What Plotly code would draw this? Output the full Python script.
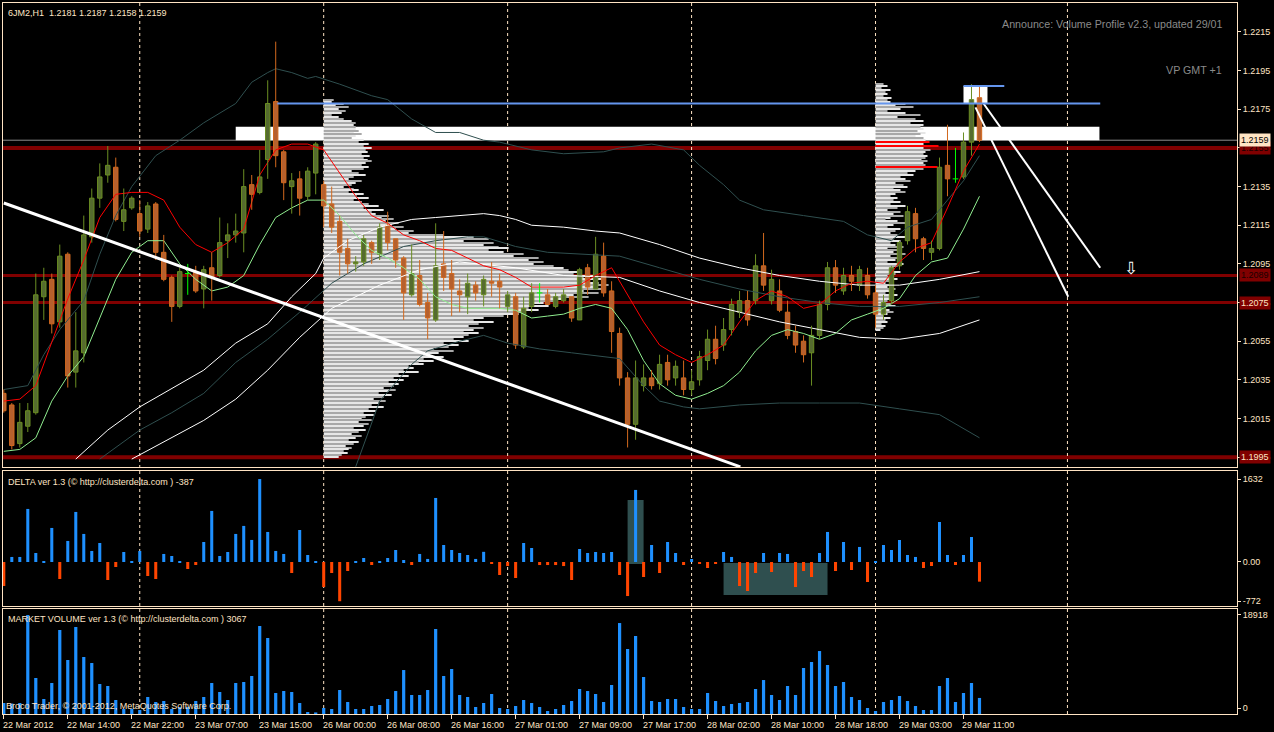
import plotly.graph_objects as go

# ---------------- DATA ----------------
open_ = [1.2028,1.2022,1.2002,1.2011,1.2018,1.2078,1.2087,1.2065,1.2100,1.2039,
         1.2049,1.2109,1.2129,1.2141,1.2145,1.2117,1.2124,1.2121,1.2113,1.2126,
         1.2101,1.2088,1.2073,1.2090,1.2091,1.2082,1.2093,1.2089,1.2107,1.2110,
         1.2111,1.2136,1.2132,1.2149,1.2179,1.2153,1.2135,1.2139,1.2130,1.2142,
         1.2136,1.2126,1.2117,1.2103,1.2095,1.2096,1.2106,1.2100,1.2115,1.2108,
         1.2098,1.2079,1.2089,1.2075,1.2066,1.2095,1.2090,1.2081,1.2078,1.2084,
         1.2079,1.2086,1.2086,1.2073,1.2078,1.2052,1.2073,1.2080,1.2079,1.2073,
         1.2076,1.2078,1.2066,1.2093,1.2082,1.2099,1.2081,1.2059,1.2036,1.2012,
         1.2032,1.2036,1.2033,1.2044,1.2036,1.2036,1.2030,1.2035,1.2045,1.2056,
         1.2053,1.2061,1.2070,1.2076,1.2076,1.2094,1.2076,1.2081,1.2070,1.2060,
         1.2055,1.2049,1.2058,1.2074,1.2093,1.2081,1.2089,1.2084,1.2089,1.2080,
         1.2069,1.2076,1.2094,1.2107,1.2121,1.2108,1.2101,1.2103,1.2146,1.2139,
         1.2140,1.2158,1.2181]
high_ = [1.2030,1.2023,1.2023,1.2023,1.2090,1.2093,1.2090,1.2105,1.2101,1.2070,
         1.2120,1.2134,1.2147,1.2156,1.2150,1.2134,1.2130,1.2128,1.2127,1.2127,
         1.2110,1.2089,1.2093,1.2095,1.2094,1.2094,1.2101,1.2119,1.2116,1.2121,
         1.2144,1.2141,1.2154,1.2190,1.2210,1.2154,1.2142,1.2143,1.2145,1.2158,
         1.2138,1.2135,1.2120,1.2108,1.2099,1.2110,1.2107,1.2116,1.2122,1.2108,
         1.2099,1.2105,1.2097,1.2080,1.2116,1.2112,1.2097,1.2087,1.2090,1.2086,
         1.2089,1.2096,1.2090,1.2081,1.2080,1.2078,1.2085,1.2085,1.2082,1.2080,
         1.2082,1.2078,1.2093,1.2095,1.2109,1.2106,1.2086,1.2062,1.2039,1.2045,
         1.2043,1.2040,1.2048,1.2048,1.2045,1.2045,1.2040,1.2050,1.2061,1.2063,
         1.2067,1.2077,1.2081,1.2081,1.2100,1.2111,1.2092,1.2087,1.2076,1.2063,
         1.2058,1.2063,1.2076,1.2096,1.2097,1.2093,1.2094,1.2094,1.2093,1.2084,
         1.2079,1.2094,1.2107,1.2125,1.2124,1.2109,1.2107,1.2150,1.2167,1.2155,
         1.2163,1.2188,1.2187]
low_ = [1.2018,1.1999,1.2000,1.2008,1.2017,1.2066,1.2059,1.2062,1.2031,1.2031,
        1.2044,1.2106,1.2124,1.2137,1.2117,1.2112,1.2123,1.2109,1.2111,1.2097,
        1.2086,1.2065,1.2072,1.2079,1.2080,1.2072,1.2076,1.2088,1.2098,1.2106,
        1.2101,1.2123,1.2131,1.2139,1.2145,1.2128,1.2121,1.2120,1.2128,1.2131,
        1.2114,1.2111,1.2089,1.2090,1.2091,1.2094,1.2095,1.2097,1.2102,1.2093,
        1.2066,1.2078,1.2073,1.2056,1.2065,1.2081,1.2068,1.2070,1.2069,1.2076,
        1.2073,1.2078,1.2072,1.2070,1.2051,1.2051,1.2070,1.2075,1.2074,1.2072,
        1.2075,1.2065,1.2066,1.2079,1.2082,1.2078,1.2049,1.2032,1.2000,1.2004,
        1.2029,1.2030,1.2030,1.2032,1.2032,1.2027,1.2027,1.2032,1.2040,1.2043,
        1.2050,1.2058,1.2067,1.2063,1.2074,1.2081,1.2074,1.2070,1.2056,1.2049,
        1.2044,1.2032,1.2056,1.2071,1.2080,1.2079,1.2081,1.2081,1.2077,1.2062,
        1.2066,1.2074,1.2092,1.2105,1.2101,1.2097,1.2097,1.2102,1.2130,1.2137,
        1.2139,1.2151,1.2158]
close_ = [1.2019,1.2001,1.2013,1.2019,1.2079,1.2086,1.2064,1.2099,1.2037,1.2050,
          1.2110,1.2129,1.2140,1.2146,1.2118,1.2123,1.2129,1.2112,1.2125,1.2101,
          1.2087,1.2073,1.2091,1.2090,1.2081,1.2092,1.2088,1.2106,1.2110,1.2112,
          1.2135,1.2131,1.2140,1.2178,1.2151,1.2137,1.2138,1.2129,1.2143,1.2157,
          1.2125,1.2114,1.2101,1.2095,1.2096,1.2108,1.2101,1.2114,1.2106,1.2097,
          1.2080,1.2090,1.2074,1.2067,1.2094,1.2088,1.2082,1.2079,1.2085,1.2080,
          1.2087,1.2085,1.2083,1.2079,1.2053,1.2072,1.2080,1.2080,1.2074,1.2078,
          1.2079,1.2067,1.2092,1.2083,1.2100,1.2080,1.2060,1.2036,1.2012,1.2036,
          1.2036,1.2032,1.2043,1.2035,1.2042,1.2030,1.2034,1.2047,1.2056,1.2046,
          1.2061,1.2074,1.2076,1.2066,1.2094,1.2084,1.2087,1.2071,1.2058,1.2053,
          1.2048,1.2058,1.2074,1.2093,1.2084,1.2089,1.2086,1.2092,1.2079,1.2069,
          1.2075,1.2093,1.2106,1.2122,1.2108,1.2103,1.2103,1.2145,1.2139,1.2139,
          1.2158,1.2180,1.2159]

delta = [-473,99,99,1044,177,20,670,-335,414,985,
         552,217,374,-355,-99,197,15,217,-276,-335,
         158,118,20,-138,-59,394,1005,118,197,552,
         710,434,1632,591,217,158,-217,630,138,10,
         -493,-217,-772,-177,20,79,-59,20,79,236,
         39,-59,158,60,1260,335,236,177,138,60,
         200,-40,-256,-80,-315,374,276,-60,-60,-60,
         -80,-354,256,177,197,177,197,-256,-670,1418,
         -296,335,-217,394,177,-59,59,-39,-118,-39,
         197,99,-473,-571,-217,177,-197,177,158,-493,
         -177,-296,177,591,-177,394,-158,296,-394,20,
         335,236,433,138,99,-118,-79,787,138,-59,
         138,492,-387]

volume = [2100,2000,2100,18918,6880,2870,5920,16050,10320,16620,
          10890,9740,5730,5350,2670,960,1000,760,3250,2290,
          2480,960,1340,1340,2480,3250,5920,4200,2670,5920,
          6110,7260,16810,14520,4010,4390,4200,2100,380,300,
          1150,960,4580,2290,960,960,1530,1720,2870,4390,
          8400,3630,3630,4580,16240,7260,8600,3630,3250,1340,
          2100,3820,1150,960,1530,2670,2100,1340,570,960,
          1720,2480,4780,4390,3820,2290,5540,17380,12420,14900,
          7070,2480,2290,2870,2870,1340,960,960,4010,2480,
          1530,1910,2100,2290,4780,6490,3630,2670,5350,3630,
          8790,9930,12030,9360,5350,6110,3250,2670,1150,570,
          2290,2670,3440,2480,1530,760,760,5350,6880,2290,
          4010,5920,3067]

x_label_bars = [0, 8, 16, 24, 32, 40, 48, 56, 64, 72, 80, 88, 96, 104, 112, 120]
x_labels = ["22 Mar 2012", "22 Mar 14:00", "22 Mar 22:00", "23 Mar 07:00", "23 Mar 15:00",
            "26 Mar 00:00", "26 Mar 08:00", "26 Mar 16:00", "27 Mar 01:00", "27 Mar 09:00",
            "27 Mar 17:00", "28 Mar 02:00", "28 Mar 10:00", "28 Mar 18:00", "29 Mar 03:00",
            "29 Mar 11:00"]
day_sep_bars = [17, 40, 63, 86, 109, 133]

price_ticks = [1.1995, 1.2015, 1.2035, 1.2055, 1.2075, 1.2095, 1.2115, 1.2135, 1.2155, 1.2175, 1.2195, 1.2215]

# moving averages (every 2nd bar)
ma_bars = list(range(0, 123, 2))
red_ma = [1.2024,1.2025,1.2032,1.2054,1.2077,1.2097,1.2119,1.2131,1.2132,1.2132,
          1.2128,1.2114,1.2105,1.2101,1.2106,1.2113,1.2141,1.2154,1.2157,1.2157,
          1.2154,1.2142,1.2130,1.2120,1.2116,1.2110,1.2107,1.2103,1.2102,1.2098,
          1.2094,1.2092,1.2088,1.2083,1.2083,1.2083,1.2084,1.2089,1.2093,1.2079,
          1.2065,1.2053,1.2048,1.2044,1.2048,1.2053,1.2065,1.2076,1.2081,1.2078,
          1.2072,1.2074,1.2081,1.2085,1.2086,1.2085,1.2096,1.2103,1.2106,1.2124,
          1.2143,1.2157]
green_ma = [1.1998,1.1999,1.2005,1.2024,1.2037,1.2047,1.2067,1.2087,1.2101,1.2107,
            1.2107,1.2095,1.2087,1.2081,1.2083,1.2089,1.2105,1.2119,1.2124,1.2128,
            1.2128,1.2120,1.2110,1.2102,1.2098,1.2093,1.2087,1.2078,1.2074,1.2072,
            1.2072,1.2072,1.2071,1.2067,1.2068,1.2069,1.2072,1.2074,1.2072,1.2061,
            1.2045,1.2033,1.2027,1.2025,1.2028,1.2032,1.2039,1.2050,1.2058,1.2061,
            1.2059,1.2056,1.2059,1.2066,1.2069,1.2072,1.2077,1.2089,1.2096,1.2098,
            1.2113,1.2130]

bb_up_bars = [0,3,5,7,10,12,14,16,19,22,25,29,31,33,34,36,38,39,42,46,48,51,54,57,60,
              62,66,70,75,77,81,85,87,90,92,95,100,105,108,111,113,116,118,120,122]
bb_up = [1.2030,1.2032,1.2048,1.2061,1.2076,1.2100,1.2120,1.2135,1.2151,1.2159,
         1.2168,1.2178,1.2189,1.2194,1.2196,1.2194,1.2191,1.2192,1.2188,1.2182,
         1.2180,1.2170,1.2163,1.2163,1.2159,1.2158,1.2154,1.2152,1.2153,1.2155,
         1.2157,1.2154,1.2146,1.2136,1.2128,1.2123,1.2120,1.2117,1.2110,1.2107,
         1.2114,1.2118,1.2128,1.2138,1.2151]
bb_lo_bars = [44,47,51,53,57,60,63,67,71,75,77,80,82,85,87,92,97,102,107,112,117,122]
bb_lo = [1.1990,1.2024,1.2043,1.2050,1.2055,1.2058,1.2054,1.2051,1.2049,1.2047,1.2046,
         1.2032,1.2024,1.2021,1.2020,1.2022,1.2023,1.2023,1.2023,1.2020,1.2017,1.2005]

ch_up_bars = [9,13,17,20,25,29,33,36,39,40,43,47,51,54,57,60,62,64,66,70,74,77,82,87,92,97,102,107,112,117,122]
ch_up = [1.1994,1.2009,1.2021,1.2028,1.2040,1.2054,1.2064,1.2078,1.2090,1.2098,
         1.2107,1.2114,1.2118,1.2119,1.2120,1.2121,1.2120,1.2118,1.2115,1.2114,
         1.2112,1.2111,1.2105,1.2098,1.2093,1.2089,1.2086,1.2084,1.2084,1.2087,1.2091]
ch_mid_bars = [12,17,21,25,29,33,37,41,45,50,54,58,60,64,68,72,77,82,87,92,97,102,107,112,117,122]
ch_mid = [1.1994,1.2009,1.2018,1.2028,1.2044,1.2056,1.2070,1.2085,1.2095,1.2104,
          1.2107,1.2109,1.2109,1.2104,1.2101,1.2100,1.2099,1.2093,1.2087,1.2082,
          1.2078,1.2075,1.2073,1.2073,1.2075,1.2078]
ch_lo_bars = [16,21,25,29,33,37,41,47,52,57,64,70,77,82,87,92,97,102,107,112,117,122]
ch_lo = [1.1994,1.2005,1.2014,1.2025,1.2040,1.2057,1.2072,1.2084,1.2092,1.2096,1.2093,
         1.2089,1.2088,1.2081,1.2075,1.2070,1.2065,1.2061,1.2057,1.2056,1.2059,1.2066]

# volume profiles (one row per 0.0001, listed from the top price down)
vp1_top, vp1_start = 1.2180, 40
vp1_vol = [10,8,20,12,25,15,22,18,8,15,20,28,32,30,32,
           32,35,30,38,32,28,40,35,
           45,40,48,42,44,38,46,40,44,48,42,38,45,
           40,28,35,42,30,25,38,32,28,20,30,35,25,40,33,45,30,
           38,45,55,40,60,48,52,65,58,70,62,75,68,80,72,90,85,
           120,150,165,140,170,160,175,185,165,
           180,200,190,215,205,220,210,230,240,
           245,255,250,270,260,280,265,
           275,285,270,280,260,275,250,265,240,230,
           220,210,225,205,215,200,195,
           180,160,150,170,155,145,160,150,140,155,145,
           140,130,145,120,135,125,110,130,115,105,120,100,110,95,
           100,85,90,80,95,75,85,70,80,65,75,70,60,72,65,55,68,60,50,62,
           55,48,60,45,52,40,50,42,38,48,35,45,40,30,42,35,28,38,32,25,35,30,22,28,25,20,24,18,15]
vp2_top, vp2_start = 1.2188, 109
vp2_vol = [8,12,6,15,10,12,8,16,12,
           15,30,20,38,25,12,30,45,22,40,48,35,48,
           45,48,42,50,45,40,48,50,44,
           48,52,48,55,50,48,52,50,46,52,48,50,45,48,
           40,32,38,25,30,35,20,28,32,18,25,30,20,15,22,
           18,25,15,30,22,12,25,18,28,15,10,22,30,18,12,25,20,15,22,30,18,
           25,15,20,28,12,22,18,30,15,25,20,12,28,22,18,15,25,20,12,18,22,15,10,
           18,12,20,15,10,22,14,18,12,8,15,20,10,14,18,12,8,15,10,12,6,10,8,5]
vp2_poc_prices = [1.2158, 1.2156, 1.2145]
vp2_poc_vol = [54, 63, 62]
vp_units_per_bar = 8.0

# objects drawn on the chart
levels = [1.2155, 1.2089, 1.2075, 1.1995]
level_widths = [4, 3, 3, 4]
level_text_colors = ['#1a0000', '#1a0000', '#FFE4C4', '#FFE4C4']
bid = 1.2159
zone_bars, zone_prices = [29, 137], [1.2159, 1.2166]
blue_bars, blue_price = [34.2, 137.1], 1.2178
blue2_bars, blue2_price = [120, 125.1], 1.2187
box2_bars, box2_prices = [120, 123], [1.2178, 1.2187]
trend_bars, trend_prices = [0, 92.1], [1.21265, 1.1990]
ray_a_bars, ray_a_prices = [122.5, 137.1], [1.2178, 1.2093]
ray_b_bars, ray_b_prices = [121.5, 133.1], [1.2176, 1.2078]
arrow_bar, arrow_price = 140.9, 1.2093
delta_boxes = [([78, 80], [-39, 1220]), ([90, 103], [-20, -650])]

# ---------------- STYLE ----------------
CREAM = '#FFE4C4'
FONT = 'Liberation Sans'
G_FILL, G_EDGE = '#556B2F', '#6B8E23'
O_FILL, O_EDGE = '#B5602E', '#D2691E'
DOJI = '#00FF00'

N = len(close_)
bars = list(range(N))
up = [i for i in bars if close_[i] > open_[i]]
dn = [i for i in bars if close_[i] < open_[i]]
dj = [i for i in bars if close_[i] == open_[i]]

fig = go.Figure()

def line(xs, ys, color, width, dash=None, xa='x', ya='y'):
    fig.add_trace(go.Scatter(x=xs, y=ys, mode='lines', xaxis=xa, yaxis=ya,
                             line=dict(color=color, width=width, dash=dash), hoverinfo='skip'))

# volume profiles
for top, start, vol in [(vp1_top, vp1_start, vp1_vol), (vp2_top, vp2_start, vp2_vol)]:
    lv = [round(top - 0.0001 * k, 4) for k in range(len(vol))]
    cols = ['#A8A8A8' if k % 2 == 0 else '#E6E6E6' for k in range(len(vol))]
    fig.add_trace(go.Bar(x=[v / vp_units_per_bar for v in vol], y=lv, base=start, orientation='h',
                         width=0.000055, marker=dict(color=cols, line=dict(width=0)),
                         xaxis='x', yaxis='y', hoverinfo='skip'))
fig.add_trace(go.Bar(x=[v / vp_units_per_bar for v in vp2_poc_vol], y=vp2_poc_prices, base=vp2_start,
                     orientation='h', width=0.00006, marker=dict(color='#FF0000', line=dict(width=0)),
                     xaxis='x', yaxis='y', hoverinfo='skip'))

# candle bodies
for sel, fill, edge in [(up, G_FILL, G_EDGE), (dn, O_FILL, O_EDGE)]:
    fig.add_trace(go.Bar(x=sel, y=[abs(close_[i] - open_[i]) for i in sel],
                         base=[min(open_[i], close_[i]) for i in sel], width=0.55,
                         marker=dict(color=fill, line=dict(color=edge, width=1)),
                         xaxis='x', yaxis='y', hoverinfo='skip'))

# bands and channel
line(bb_up_bars, bb_up, '#2F4F4F', 1)
line(bb_lo_bars, bb_lo, '#2F4F4F', 1)
line(ch_up_bars, ch_up, '#FFFFFF', 1)
line(ch_mid_bars, ch_mid, '#2F4F4F', 1)
line(ch_lo_bars, ch_lo, '#FFFFFF', 1)
line(ma_bars, green_ma, '#90EE90', 1)
line(ma_bars, red_ma, '#FF0000', 1)

# wicks
for sel, col in [(up, G_EDGE), (dn, O_EDGE), (dj, DOJI)]:
    xs, ys = [], []
    for i in sel:
        t, b = max(open_[i], close_[i]), min(open_[i], close_[i])
        xs += [i, i, None, i, i, None]
        ys += [high_[i], t, None, b, low_[i], None]
    line(xs, ys, col, 1)
xs, ys = [], []
for i in dj:
    xs += [i - 0.35, i + 0.35, None]
    ys += [open_[i], open_[i], None]
line(xs, ys, DOJI, 1)

# trend lines
line(trend_bars, trend_prices, '#FFFFFF', 3)
line(ray_a_bars, ray_a_prices, '#FFFFFF', 2)
line(ray_b_bars, ray_b_prices, '#FFFFFF', 2)

# delta
fig.add_trace(go.Bar(x=bars, y=delta, width=0.38, xaxis='x2', yaxis='y2', hoverinfo='skip',
                     marker=dict(color=['#1E90FF' if v >= 0 else '#FF4500' for v in delta], line=dict(width=0))))
# volume
fig.add_trace(go.Bar(x=bars, y=volume, width=0.4, xaxis='x3', yaxis='y3', hoverinfo='skip',
                     marker=dict(color='#1E90FF', line=dict(width=0))))

shapes = []
shapes.append(dict(type='rect', xref='x', yref='y', x0=zone_bars[0], x1=zone_bars[1],
                   y0=zone_prices[0], y1=zone_prices[1], fillcolor='#FFFFFF', line=dict(width=0), layer='below'))
shapes.append(dict(type='rect', xref='x', yref='y', x0=box2_bars[0], x1=box2_bars[1],
                   y0=box2_prices[0], y1=box2_prices[1], fillcolor='#FFFFFF', line=dict(width=0), layer='below'))
for lv, w in zip(levels, level_widths):
    shapes.append(dict(type='line', xref='paper', yref='y', x0=0, x1=1, y0=lv, y1=lv,
                       line=dict(color='#800000', width=w), layer='below'))
shapes.append(dict(type='line', xref='paper', yref='y', x0=0, x1=1, y0=bid, y1=bid,
                   line=dict(color='#8C8C8C', width=1), layer='below'))
shapes.append(dict(type='line', xref='x', yref='y', x0=blue_bars[0], x1=blue_bars[1], y0=blue_price,
                   y1=blue_price, line=dict(color='#6495ED', width=2)))
shapes.append(dict(type='line', xref='x', yref='y', x0=blue2_bars[0], x1=blue2_bars[1], y0=blue2_price,
                   y1=blue2_price, line=dict(color='#6495ED', width=2)))
for xb in day_sep_bars:
    shapes.append(dict(type='line', xref='x', yref='paper', x0=xb, x1=xb, y0=0, y1=1,
                       line=dict(color=CREAM, width=1, dash='3px,3px'), layer='below'))
for (bx, by) in delta_boxes:
    shapes.append(dict(type='rect', xref='x2', yref='y2', x0=bx[0], x1=bx[1], y0=by[0], y1=by[1],
                       fillcolor='#2F4F4F', line=dict(width=0), layer='below'))

ann = []
def txt(text, **kw):
    d = dict(text=text, showarrow=False, font=dict(family=FONT, size=9, color=CREAM))
    d.update(kw)
    ann.append(d)

txt('6JM2,H1\u00a0\u00a01.2181 1.2187 1.2158 1.2159', xref='paper', yref='paper', x=0, y=1,
    xanchor='left', yanchor='top', xshift=3, yshift=-3)
txt('DELTA ver 1.3 (© http://clusterdelta.com ) -387', xref='paper', yref='y2 domain', x=0, y=1,
    xanchor='left', yanchor='top', xshift=3, yshift=-4)
txt('MARKET VOLUME ver 1.3 (© http://clusterdelta.com ) 3067', xref='paper', yref='y3 domain', x=0, y=1,
    xanchor='left', yanchor='top', xshift=3, yshift=-3)
txt('Broco Trader, © 2001-2012, MetaQuotes Software Corp.', xref='paper', yref='y3 domain', x=0, y=0,
    xanchor='left', yanchor='bottom', xshift=1, yshift=1)
txt('Announce: Volume Profile v2.3, updated 29/01', xref='paper', yref='paper', x=1, y=1,
    xanchor='right', yanchor='middle', xshift=-13, yshift=-21, font=dict(family=FONT, size=10.7, color='#8A8A8A'))
txt('VP GMT +1', xref='paper', yref='paper', x=1, y=1,
    xanchor='right', yanchor='middle', xshift=-13, yshift=-67, font=dict(family=FONT, size=10.7, color='#8A8A8A'))
txt('⇩', xref='x', yref='y', x=arrow_bar, y=arrow_price, font=dict(family='DejaVu Sans', size=17, color='#FFFFFF'))
for b, t in zip(x_label_bars, x_labels):
    txt(t, xref='x3', yref='paper', x=b, y=0, xanchor='left', yanchor='top', xshift=-3, yshift=-4)
for lv, tc in zip(levels, level_text_colors):
    txt('%.4f' % lv, xref='paper', yref='y', x=1, y=lv, xanchor='left', yanchor='middle', xshift=2,
        bgcolor='#800000', borderpad=1, font=dict(family=FONT, size=9, color=tc))
txt('%.4f' % bid, xref='paper', yref='y', x=1, y=bid, xanchor='left', yanchor='middle', xshift=2,
    bgcolor=CREAM, borderpad=1, font=dict(family=FONT, size=9, color='#000000'))

axis_common = dict(showline=True, linecolor=CREAM, linewidth=1, mirror=True, showgrid=False,
                   zeroline=False, fixedrange=True)
xrange = [-0.1, 154.2]
yfont = dict(family=FONT, size=9, color=CREAM)

fig.update_layout(
    width=1274, height=732, autosize=False,
    margin=dict(l=3, r=37, t=3, b=18),
    paper_bgcolor='#000000', plot_bgcolor='#000000',
    showlegend=False, barmode='overlay', hovermode=False,
    font=dict(family=FONT, size=9, color=CREAM),
    xaxis=dict(domain=[0, 1], anchor='y', range=xrange, showticklabels=False, ticks='', **axis_common),
    xaxis2=dict(domain=[0, 1], anchor='y2', matches='x', showticklabels=False, ticks='', **axis_common),
    xaxis3=dict(domain=[0, 1], anchor='y3', matches='x', showticklabels=False, ticks='outside', ticklen=4,
                tickcolor=CREAM, tickvals=x_label_bars, **axis_common),
    yaxis=dict(domain=[0.3474, 1], anchor='x', range=[1.19899, 1.22300], side='right', ticks='outside',
               ticklen=3, tickcolor=CREAM, tickvals=price_ticks, ticktext=['%.4f' % p for p in price_ticks],
               tickfont=yfont, **axis_common),
    yaxis2=dict(domain=[0.1519, 0.3418], anchor='x2', range=[-866, 1791], side='right', ticks='outside',
                ticklen=3, tickcolor=CREAM, tickvals=[-772, 0, 1632], ticktext=['-772', '0.00', '1632'],
                tickfont=yfont, **axis_common),
    yaxis3=dict(domain=[0, 0.1477], anchor='x3', range=[0, 20065], side='right', ticks='outside',
                ticklen=3, tickcolor=CREAM, tickvals=[1146, 18918], ticktext=['0', '18918'],
                tickfont=yfont, **axis_common),
    shapes=shapes, annotations=ann,
)

fig.write_html("out.html", config={'displayModeBar': False},
               post_script="document.body.style.margin='0';document.body.style.background='#000';")
